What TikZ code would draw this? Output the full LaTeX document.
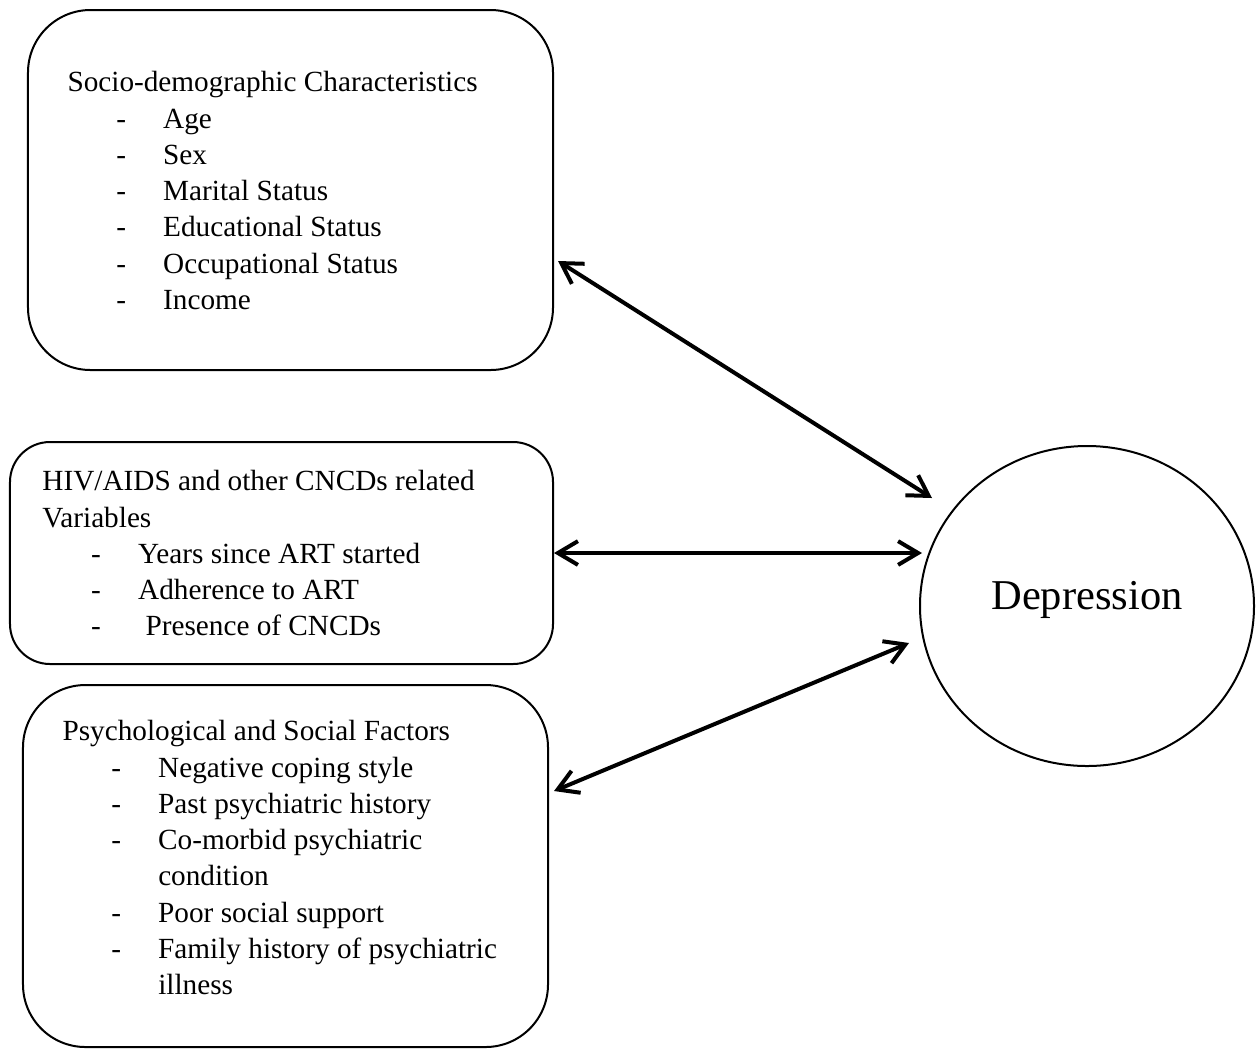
\documentclass[tikz,border=0pt]{standalone}
\usepackage{fontspec}
\setmainfont{Liberation Serif}
\usetikzlibrary{arrows.meta,shapes.geometric,positioning}
\newcommand{\itm}[1]{\makebox[38.3pt][l]{\hspace*{19.5pt}-}#1}
\newcommand{\cont}[1]{\hspace*{38.3pt}#1}
\begin{document}
\begin{tikzpicture}[x=0.4pt, y=-0.4pt,
  box/.style={draw, line width=0.8pt, rounded corners=25pt, inner sep=0pt},
  txt/.style={anchor=north west, inner sep=0pt, align=left, font=\fontsize{11.7}{14.5}\selectfont},
  dbl/.style={{Straight Barb[length=8pt,width=9.5pt]}-{Straight Barb[length=8pt,width=9.5pt]}, line width=1.6pt}]
\useasboundingbox (0,0) rectangle (1259,1049);
\node[box, minimum width=210pt, minimum height=144pt] (soc) at (290.5,190) {};
\node[box, rounded corners=16pt, minimum width=217.2pt, minimum height=88.8pt] (hiv) at (281.5,553) {};
\node[box, minimum width=210pt, minimum height=144.8pt] (psy) at (285.5,866) {};
\node[draw, ellipse, line width=0.8pt, minimum width=133.6pt, minimum height=128pt, inner sep=0pt,
  text depth=8.5pt, font=\fontsize{17}{20}\selectfont] (dep) at (1087,606) {Depression};
\node[txt] (soctxt) at (67,71) {Socio-demographic Characteristics\\
  \itm{Age}\\ \itm{Sex}\\ \itm{Marital Status}\\ \itm{Educational Status}\\
  \itm{Occupational Status}\\ \itm{Income}};
\node[txt] (hivtxt) at (42,470) {HIV/AIDS and other CNCDs related\\ Variables\\
  \itm{Years since ART started}\\ \itm{Adherence to ART}\\ \itm{\ Presence of CNCDs}};
\node[txt] (psytxt) at (62,720) {Psychological and Social Factors\\
  \itm{Negative coping style}\\ \itm{Past psychiatric history}\\
  \itm{Co-morbid psychiatric}\\ \cont{condition}\\ \itm{Poor social support}\\
  \itm{Family history of psychiatric}\\ \cont{illness}};
\draw[dbl] ([shift={(4,71)}]soc.east) -- ([shift={(-155,-108)}]dep.center);
\draw[dbl] (hiv.east) -- ([shift={(-165,-53)}]dep.center);
\draw[dbl] ([shift={(5,-75)}]psy.east) -- ([shift={(-178,37)}]dep.center);
\end{tikzpicture}
\end{document}
